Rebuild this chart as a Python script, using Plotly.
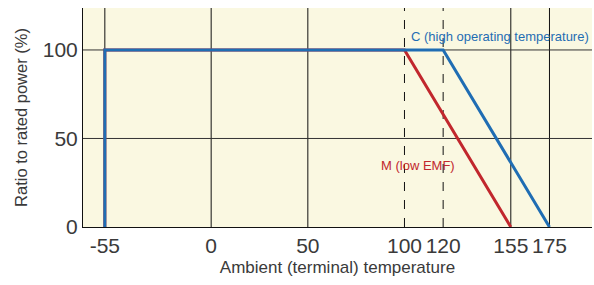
import plotly.graph_objects as go

# Data
m_temp = [-55, -55, 100, 155]
m_power = [0, 100, 100, 0]
c_temp = [-55, -55, 120, 175]
c_power = [0, 100, 100, 0]
x_ticks = [-55, 0, 50, 100, 120, 155, 175]
x_tick_labels = ["-55", "0", "50", "100", "120", "155", "175"]
x_dashed = [100, 120]
y_ticks = [0, 50, 100]
y_tick_labels = ["0", "50", "100"]

BLUE = "#1f6db3"
RED = "#c1272d"
FONT = "Liberation Sans, Arial, sans-serif"
TXT = "#3a3a3a"

fig = go.Figure()
fig.add_trace(go.Scatter(x=m_temp, y=m_power, mode="lines",
                         line=dict(color=RED, width=3), name="M (low EMF)"))
fig.add_trace(go.Scatter(x=c_temp, y=c_power, mode="lines",
                         line=dict(color=BLUE, width=3),
                         name="C (high operating temperature)"))

for xv in x_ticks:
    fig.add_vline(x=xv, line=dict(color="#111", width=1,
                                  dash="dash" if xv in x_dashed else "solid"),
                  layer="below")
for yv in y_ticks[1:]:
    fig.add_hline(y=yv, line=dict(color="#333", width=1), layer="below")

fig.add_annotation(x=1.0, xref="paper", xshift=-1, y=100, text="C (high operating temperature)",
                   xanchor="right", showarrow=False, yshift=13,
                   font=dict(color=BLUE, size=13, family=FONT))
fig.add_annotation(x=107, y=34.5, text="M (low EMF)", xanchor="center",
                   showarrow=False, font=dict(color=RED, size=13, family=FONT))

fig.update_layout(
    width=594, height=285,
    margin=dict(l=83, r=2, t=8, b=58),
    paper_bgcolor="white",
    plot_bgcolor="#faf8e1",
    showlegend=False,
    font=dict(family=FONT, color=TXT),
)
fig.update_xaxes(range=[-66.3, 197], tickvals=x_ticks, ticktext=x_tick_labels,
                 showgrid=False, zeroline=False, automargin=False,
                 showline=True, linecolor="#111", linewidth=1, ticks="",
                 tickfont=dict(size=21, color=TXT),
                 title=dict(text="Ambient (terminal) temperature", font=dict(size=17, color=TXT),
                            standoff=4))
fig.update_yaxes(range=[0, 123.7], tickvals=y_ticks, ticktext=y_tick_labels,
                 showgrid=False, zeroline=False, automargin=False,
                 showline=True, linecolor="#111", linewidth=1, ticks="",
                 tickfont=dict(size=21, color=TXT),
                 title=dict(text="Ratio to rated power (%)", font=dict(size=16.5, color=TXT),
                            standoff=10))

fig.write_html("out.html", config={"displayModeBar": False},
               post_script="document.body.style.margin='0';")
